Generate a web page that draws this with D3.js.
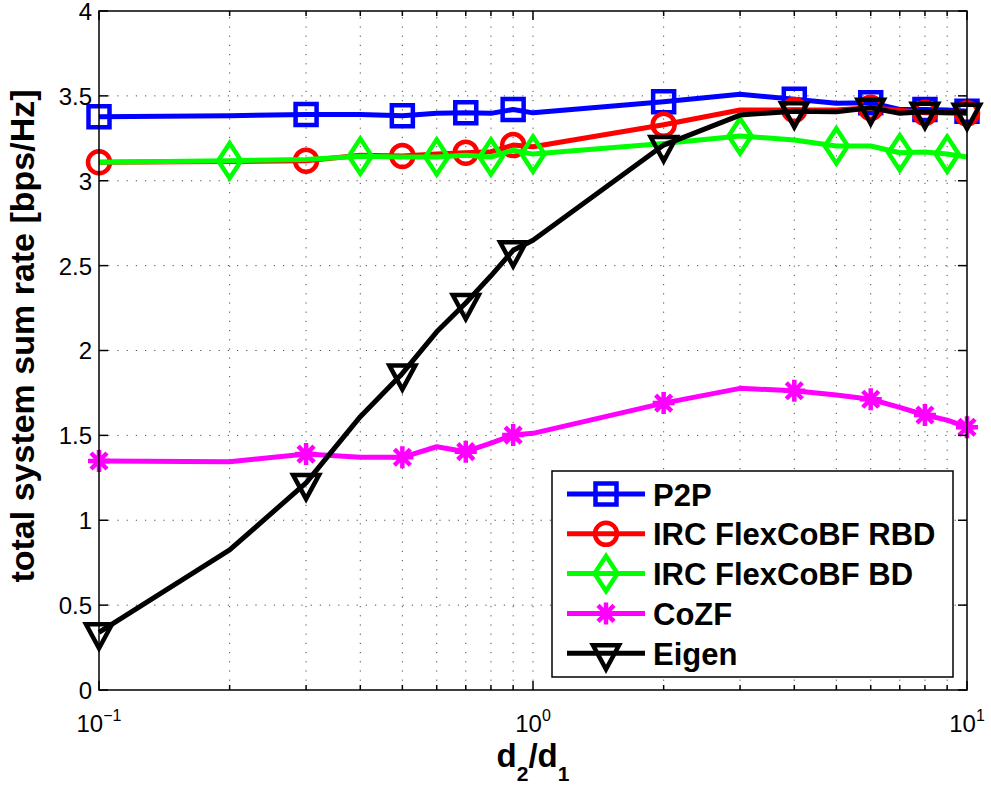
<!DOCTYPE html>
<html><head><meta charset="utf-8">
<script src="https://cdn.jsdelivr.net/npm/d3@7"></script>
<style>body{margin:0;background:#fff}svg{display:block}text{font-family:"Liberation Sans",Arial,Helvetica,sans-serif}</style>
</head><body><svg id="c" width="991" height="787"></svg>
<script>
// ---- data ----
const xVals = [0.1,0.2,0.3,0.4,0.5,0.6,0.7,0.8,0.9,1,2,3,4,5,6,7,8,9,10];
const p2p   = [3.377,3.383,3.39,3.39,3.383,3.397,3.40,3.397,3.42,3.40,3.465,3.509,3.48,3.456,3.46,3.42,3.42,3.417,3.41];
const rbd   = [3.109,3.113,3.118,3.15,3.146,3.157,3.165,3.171,3.21,3.20,3.33,3.417,3.417,3.417,3.43,3.415,3.40,3.40,3.397];
const bd    = [3.109,3.118,3.125,3.145,3.14,3.14,3.15,3.14,3.18,3.157,3.22,3.264,3.24,3.205,3.205,3.165,3.17,3.157,3.14];
const cozf  = [1.349,1.345,1.39,1.371,1.371,1.433,1.404,1.455,1.502,1.512,1.69,1.777,1.763,1.738,1.713,1.665,1.62,1.59,1.548];
const eigen = [0.34,0.825,1.22,1.61,1.865,2.11,2.28,2.44,2.59,2.65,3.21,3.387,3.41,3.407,3.43,3.397,3.407,3.40,3.40];
const markOdd  = [0.1,0.3,0.5,0.7,0.9,2,4,6,8,10];
const markEven = [0.2,0.4,0.6,0.8,1,3,5,7,9];
const seriesNames = ["P2P","IRC FlexCoBF RBD","IRC FlexCoBF BD","CoZF","Eigen"];
const yTicks = [0,0.5,1,1.5,2,2.5,3,3.5,4];
const xMajor = [0.1,1,10];
const xMajorExp = ["\u22121","0","1"];
const xMinor = [0.2,0.3,0.4,0.5,0.6,0.7,0.8,0.9,2,3,4,5,6,7,8,9];

const series = [
  {name:seriesNames[0], y:p2p,   color:"#0000ff", marker:"square",   mx:markOdd},
  {name:seriesNames[1], y:rbd,   color:"#ff0000", marker:"circle",   mx:markOdd},
  {name:seriesNames[2], y:bd,    color:"#00ff00", marker:"diamond",  mx:markEven},
  {name:seriesNames[3], y:cozf,  color:"#ff00ff", marker:"star",     mx:markOdd},
  {name:seriesNames[4], y:eigen, color:"#000000", marker:"triangle", mx:markOdd}
];

// ---- layout ----
const L=99, R=967, T=11, B=690;
const x = d3.scaleLog().domain([0.1,10]).range([L,R]);
const y = d3.scaleLinear().domain([0,4]).range([B,T]);
const svg = d3.select("#c");
const LW = 5;
const MW = 4.5;

// grid
const grid = svg.append("g").attr("stroke","#000").attr("stroke-width",1).attr("stroke-dasharray","1.2,8").attr("opacity",0.7);
[...xMinor, 1].forEach(v=>{
  grid.append("line").attr("x1",x(v)).attr("x2",x(v)).attr("y1",B).attr("y2",T);
});
yTicks.filter(v=>v>0&&v<4).forEach(v=>{
  grid.append("line").attr("x1",L).attr("x2",R).attr("y1",y(v)).attr("y2",y(v));
});

// marker shapes
function markerPath(type, cx, cy){
  switch(type){
    case "square": { const s=10.5; return `M${cx-s},${cy-s}H${cx+s}V${cy+s}H${cx-s}Z`; }
    case "diamond": { const w=11.5,h=17.5; return `M${cx},${cy-h}L${cx+w},${cy}L${cx},${cy+h}L${cx-w},${cy}Z`; }
    case "triangle": { const w=13; return `M${cx-w},${cy-8}H${cx+w}L${cx},${cy+16}Z`; }
    case "star": { const a=11, d=8; return `M${cx-a},${cy}H${cx+a}M${cx},${cy-a}V${cy+a}M${cx-d},${cy-d}L${cx+d},${cy+d}M${cx-d},${cy+d}L${cx+d},${cy-d}`; }
  }
}
function drawMarker(g, type, cx, cy, color){
  if(type==="circle"){
    g.append("circle").attr("cx",cx).attr("cy",cy).attr("r",11).attr("fill","none").attr("stroke",color).attr("stroke-width",MW);
  } else {
    g.append("path").attr("d",markerPath(type,cx,cy)).attr("fill","none").attr("stroke",color).attr("stroke-width",MW).attr("stroke-linejoin","miter");
  }
}

const line = d3.line().x(d=>x(d[0])).y(d=>y(d[1]));
series.forEach(s=>{
  const g = svg.append("g");
  const pts = xVals.map((v,i)=>[v,s.y[i]]);
  g.append("path").attr("d",line(pts)).attr("fill","none").attr("stroke",s.color).attr("stroke-width",LW).attr("stroke-linejoin","round");
  s.mx.forEach(mv=>{
    const i = xVals.indexOf(mv);
    drawMarker(g, s.marker, x(mv), y(s.y[i]), s.color);
  });
});

// axes box + ticks
const ax = svg.append("g").attr("stroke","#000").attr("stroke-width",1.5).attr("fill","none");
ax.append("rect").attr("x",L).attr("y",T).attr("width",R-L).attr("height",B-T);
yTicks.forEach(v=>{
  ax.append("line").attr("x1",L).attr("x2",L+9).attr("y1",y(v)).attr("y2",y(v));
  ax.append("line").attr("x1",R).attr("x2",R-9).attr("y1",y(v)).attr("y2",y(v));
});
xMajor.forEach(v=>{
  ax.append("line").attr("x1",x(v)).attr("x2",x(v)).attr("y1",B).attr("y2",B-9);
  ax.append("line").attr("x1",x(v)).attr("x2",x(v)).attr("y1",T).attr("y2",T+9);
});
xMinor.forEach(v=>{
  ax.append("line").attr("x1",x(v)).attr("x2",x(v)).attr("y1",B).attr("y2",B-5);
  ax.append("line").attr("x1",x(v)).attr("x2",x(v)).attr("y1",T).attr("y2",T+5);
});

// tick labels
yTicks.forEach(v=>{
  svg.append("text").attr("x",92).attr("y",y(v)).attr("dy","0.37em").attr("text-anchor","end")
    .attr("font-size",24).attr("fill","#000").text(d3.format("")(v));
});
xMajor.forEach((v,i)=>{
  const t = svg.append("text").attr("x",x(v)).attr("y",732).attr("text-anchor","middle").attr("font-size",24).attr("fill","#000");
  t.append("tspan").text("10");
  t.append("tspan").attr("dy",-11).attr("font-size",16).text(xMajorExp[i]);
});

// axis labels
const xl = svg.append("text").attr("x",533).attr("y",767).attr("text-anchor","middle").attr("font-size",33).attr("font-weight","bold").attr("fill","#000");
xl.append("tspan").text("d");
xl.append("tspan").attr("dy",14).attr("font-size",21).text("2");
xl.append("tspan").attr("dy",-14).text("/d");
xl.append("tspan").attr("dy",14).attr("font-size",21).text("1");

svg.append("text").attr("transform","translate(34,336) rotate(-90)").attr("text-anchor","middle")
  .attr("font-size",34).attr("font-weight","bold").attr("fill","#000").text("total system sum rate [bps/Hz]");

// legend
const lg = svg.append("g");
lg.append("rect").attr("x",552).attr("y",471).attr("width",401).attr("height",206).attr("fill","#fff").attr("stroke","#000").attr("stroke-width",1.5);
series.forEach((s,i)=>{
  const cy = 494 + i*39.8;
  lg.append("line").attr("x1",567).attr("x2",645).attr("y1",cy).attr("y2",cy).attr("stroke",s.color).attr("stroke-width",LW);
  drawMarker(lg, s.marker, 606, cy, s.color);
  lg.append("text").attr("x",653).attr("y",cy+11.5).attr("font-size",31).attr("font-weight","bold").attr("fill","#000").text(s.name);
});
</script></body></html>
